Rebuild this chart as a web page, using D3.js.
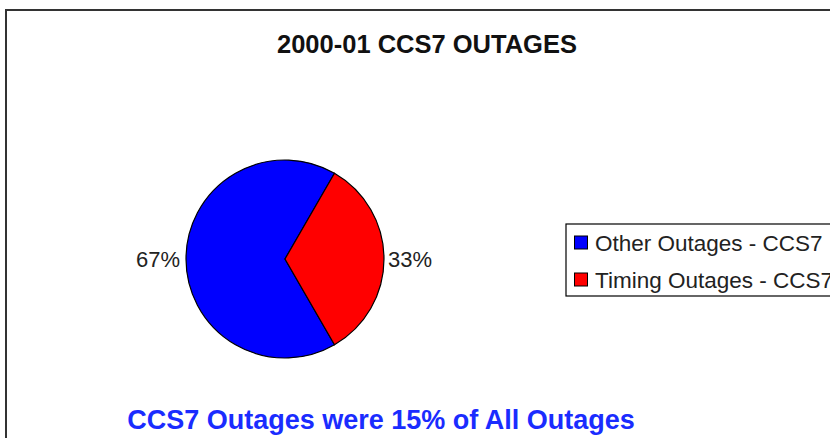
<!DOCTYPE html>
<html>
<head>
<meta charset="utf-8">
<script src="https://cdn.jsdelivr.net/npm/d3@7"></script>
<style>
body { margin: 0; background: #fff; }
svg { display: block; font-family: "Liberation Sans", Arial, sans-serif; }
</style>
</head>
<body>
<svg id="chart" width="830" height="438"></svg>
<script>
var categories = ["Other Outages - CCS7", "Timing Outages - CCS7"];
var values = [2, 1];
var colors = ["#0000ff", "#ff0000"];
var pctLabels = ["67%", "33%"];

var PIE_X = 285, PIE_Y = 259, PIE_R = 99;

var svg = d3.select("#chart");

// outer frame (runs off the right and bottom of the picture)
svg.append("rect")
	.attr("x", 6).attr("y", 10)
	.attr("width", 900).attr("height", 500)
	.attr("fill", "none")
	.attr("stroke", "#333")
	.attr("stroke-width", 2);

svg.append("text")
	.attr("x", 427).attr("y", 53)
	.attr("text-anchor", "middle")
	.attr("font-size", "25.5px")
	.attr("font-weight", "bold")
	.attr("fill", "#111")
	.text("2000-01 CCS7 OUTAGES");

// pie
var pie = d3.pie().sort(null)
	.startAngle(150 * Math.PI / 180)
	.endAngle(510 * Math.PI / 180);
var arc = d3.arc().innerRadius(0).outerRadius(PIE_R);
var arcs = pie(values);

var g = svg.append("g")
	.attr("transform", "translate(" + PIE_X + "," + PIE_Y + ")");

g.selectAll("path")
	.data(arcs)
	.enter().append("path")
	.attr("d", arc)
	.attr("fill", function(d, i) { return colors[i]; })
	.attr("stroke", "#000")
	.attr("stroke-width", 1.2);

// percentage labels just outside the pie, on the side of each slice
var labelArc = d3.arc().innerRadius(PIE_R + 5).outerRadius(PIE_R + 5);
g.selectAll("text.pct")
	.data(arcs)
	.enter().append("text")
	.attr("class", "pct")
	.attr("x", function(d) {
		var c = labelArc.centroid(d);
		return c[0] < 0 ? -(PIE_R + 6) : (PIE_R + 4);
	})
	.attr("y", function(d) { return labelArc.centroid(d)[1] + 8; })
	.attr("text-anchor", function(d) { return labelArc.centroid(d)[0] < 0 ? "end" : "start"; })
	.attr("font-size", "22px")
	.attr("fill", "#222")
	.text(function(d, i) { return pctLabels[i]; });

// legend
var legend = svg.append("g").attr("transform", "translate(566,224)");
legend.append("rect")
	.attr("x", 0).attr("y", 0)
	.attr("width", 300).attr("height", 72)
	.attr("fill", "#fff")
	.attr("stroke", "#000")
	.attr("stroke-width", 1.2);

var rowY = d3.scaleBand().domain(categories).range([0, 74]).padding(0);

var items = legend.selectAll("g.item")
	.data(categories)
	.enter().append("g")
	.attr("class", "item")
	.attr("transform", function(d) { return "translate(0," + (rowY(d) + rowY.bandwidth() / 2) + ")"; });

items.append("rect")
	.attr("x", 8.5).attr("y", -6.5)
	.attr("width", 13).attr("height", 13)
	.attr("fill", function(d, i) { return colors[i]; })
	.attr("stroke", "#000")
	.attr("stroke-width", 1);

items.append("text")
	.attr("x", 29).attr("y", 8)
	.attr("font-size", "22.5px")
	.attr("fill", "#222")
	.text(function(d) { return d; });

svg.append("text")
	.attr("x", 381).attr("y", 429)
	.attr("text-anchor", "middle")
	.attr("font-size", "27px")
	.attr("font-weight", "bold")
	.attr("fill", "#1a2cff")
	.text("CCS7 Outages were 15% of All Outages");
</script>
</body>
</html>
